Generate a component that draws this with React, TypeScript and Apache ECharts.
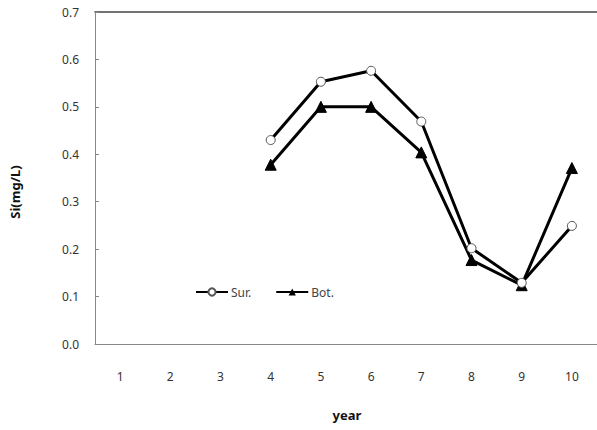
import React, { useEffect, useRef } from "react";
import * as echarts from "echarts";

const categories = ["1", "2", "3", "4", "5", "6", "7", "8", "9", "10"];
const surValues = [null, null, null, 0.43, 0.553, 0.576, 0.469, 0.202, 0.129, 0.249];
const botValues = [null, null, null, 0.378, 0.5, 0.5, 0.404, 0.177, 0.124, 0.371];
const yTicks = { min: 0, max: 0.7, interval: 0.1 };

const FONT = "'Noto Sans', 'DejaVu Sans', sans-serif";

export default function App() {
  const ref = useRef<HTMLDivElement>(null);
  useEffect(() => {
    document.body.style.margin = "0";
    if (!ref.current) return;
    const chart = echarts.init(ref.current, null, { renderer: "svg" });
    chart.setOption({
      animation: false,
      backgroundColor: "#ffffff",
      grid: { left: 95, right: 0, top: 12, bottom: 86 },
      legend: {
        left: 190,
        top: 281,
        itemWidth: 32,
        itemHeight: 9,
        itemGap: 24,
        textStyle: { fontFamily: FONT, fontSize: 12, color: "#444", padding: [0, 0, 0, -2] },
        data: ["Sur.", "Bot."],
      },
      xAxis: [
        {
          type: "category",
          data: categories,
          boundaryGap: true,
          axisLine: { lineStyle: { color: "#888", width: 1 } },
          axisTick: { inside: true, length: 5, lineStyle: { color: "#888" } },
          axisLabel: { fontFamily: FONT, fontSize: 12, color: "#333", margin: 26 },
        },
        {
          type: "category",
          data: categories,
          position: "top",
          axisLine: { lineStyle: { color: "#444", width: 1.5 } },
          axisTick: { show: false },
          axisLabel: { show: false },
        },
      ],
      yAxis: {
        type: "value",
        min: yTicks.min,
        max: yTicks.max,
        interval: yTicks.interval,
        axisLine: { show: true, lineStyle: { color: "#888", width: 1 } },
        axisTick: { show: true, inside: true, length: 4, lineStyle: { color: "#888" } },
        axisLabel: {
          fontFamily: FONT,
          fontSize: 12,
          color: "#333",
          margin: 16,
          formatter: (v: number) => v.toFixed(1),
        },
        splitLine: { show: false },
      },
      graphic: [
        {
          type: "text",
          x: 15,
          y: 192,
          rotation: Math.PI / 2,
          style: {
            text: "Si(mg/L)",
            fontFamily: FONT,
            fontSize: 13,
            fontWeight: "bold",
            fill: "#111",
            align: "center",
            verticalAlign: "middle",
          },
        },
        {
          type: "text",
          x: 347,
          y: 415,
          style: {
            text: "year",
            fontFamily: FONT,
            fontSize: 13,
            fontWeight: "bold",
            fill: "#111",
            align: "center",
            verticalAlign: "middle",
          },
        },
      ],
      series: [
        {
          name: "Sur.",
          type: "line",
          data: surValues,
          symbol: "circle",
          symbolSize: 9,
          showAllSymbol: true,
          lineStyle: { color: "#000", width: 3 },
          itemStyle: { color: "#fff", borderColor: "#555", borderWidth: 1 },
          z: 3,
        },
        {
          name: "Bot.",
          type: "line",
          data: botValues,
          symbol: "triangle",
          symbolSize: 11,
          lineStyle: { color: "#000", width: 3 },
          itemStyle: { color: "#000", borderColor: "#000" },
          z: 2,
        },
      ],
    });
    return () => chart.dispose();
  }, []);
  return <div ref={ref} style={{ width: 597, height: 430 }} />;
}
